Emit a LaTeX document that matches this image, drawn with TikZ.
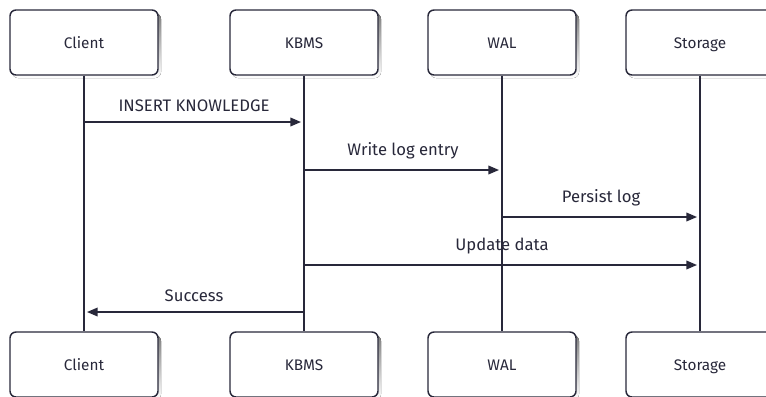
\documentclass[tikz,border=0pt]{standalone}
\usepackage{fontspec}
\setmainfont{Fira Sans}
\usetikzlibrary{arrows.meta}
\definecolor{ink}{RGB}{40,40,58}
\definecolor{shade}{RGB}{232,232,232}
\begin{document}
\begin{tikzpicture}[x=0.75pt,y=-0.75pt,
  actor/.style={draw=ink,line width=1.1pt,rounded corners=4.5pt,fill=white,minimum width=111pt,minimum height=48.75pt,inner sep=0pt,font=\fontsize{11.5}{13}\selectfont,text=ink,text height=8.5pt,text depth=0pt},
  life/.style={draw=ink,line width=1.1pt},
  msg/.style={draw=ink,line width=1.1pt,shorten >=2.25pt,-{Triangle[length=8pt,width=6.5pt]}},
  lbl/.style={font=\fontsize{12.5}{14}\selectfont,text=ink,above=4pt}]
\useasboundingbox (0,0) rectangle (766,396);
\clip (0,0) rectangle (766,396);
\foreach \n/\t/\x in {c/Client/84,k/KBMS/304,w/WAL/502,s/Storage/700}{
  \fill[shade,rounded corners=4.5pt] (\x-72,13) rectangle (\x+77,78);
  \fill[shade,rounded corners=4.5pt] (\x-72,335) rectangle (\x+77,400);
  \node[actor] (\n t) at (\x,42.5) {\t};
  \node[actor] (\n b) at (\x,364.5) {\t};
  \draw[life] (\n t.south) -- (\n b.north);
}
\coordinate (m1) at (84,122);
\draw[msg] (m1) -- node[lbl]{INSERT KNOWLEDGE} (m1 -| kt.south);
\coordinate (m2) at (304,170);
\draw[msg] (m2) -- node[lbl]{Write log entry} (m2 -| wt.south);
\coordinate (m3) at (502,217);
\draw[msg] (m3) -- node[lbl]{Persist log} (m3 -| st.south);
\coordinate (m4) at (304,265);
\draw[msg] (m4) -- node[lbl]{Update data} (m4 -| st.south);
\coordinate (m5) at (304,312);
\draw[msg] (m5) -- node[lbl]{Success} (m5 -| ct.south);
\end{tikzpicture}
\end{document}
